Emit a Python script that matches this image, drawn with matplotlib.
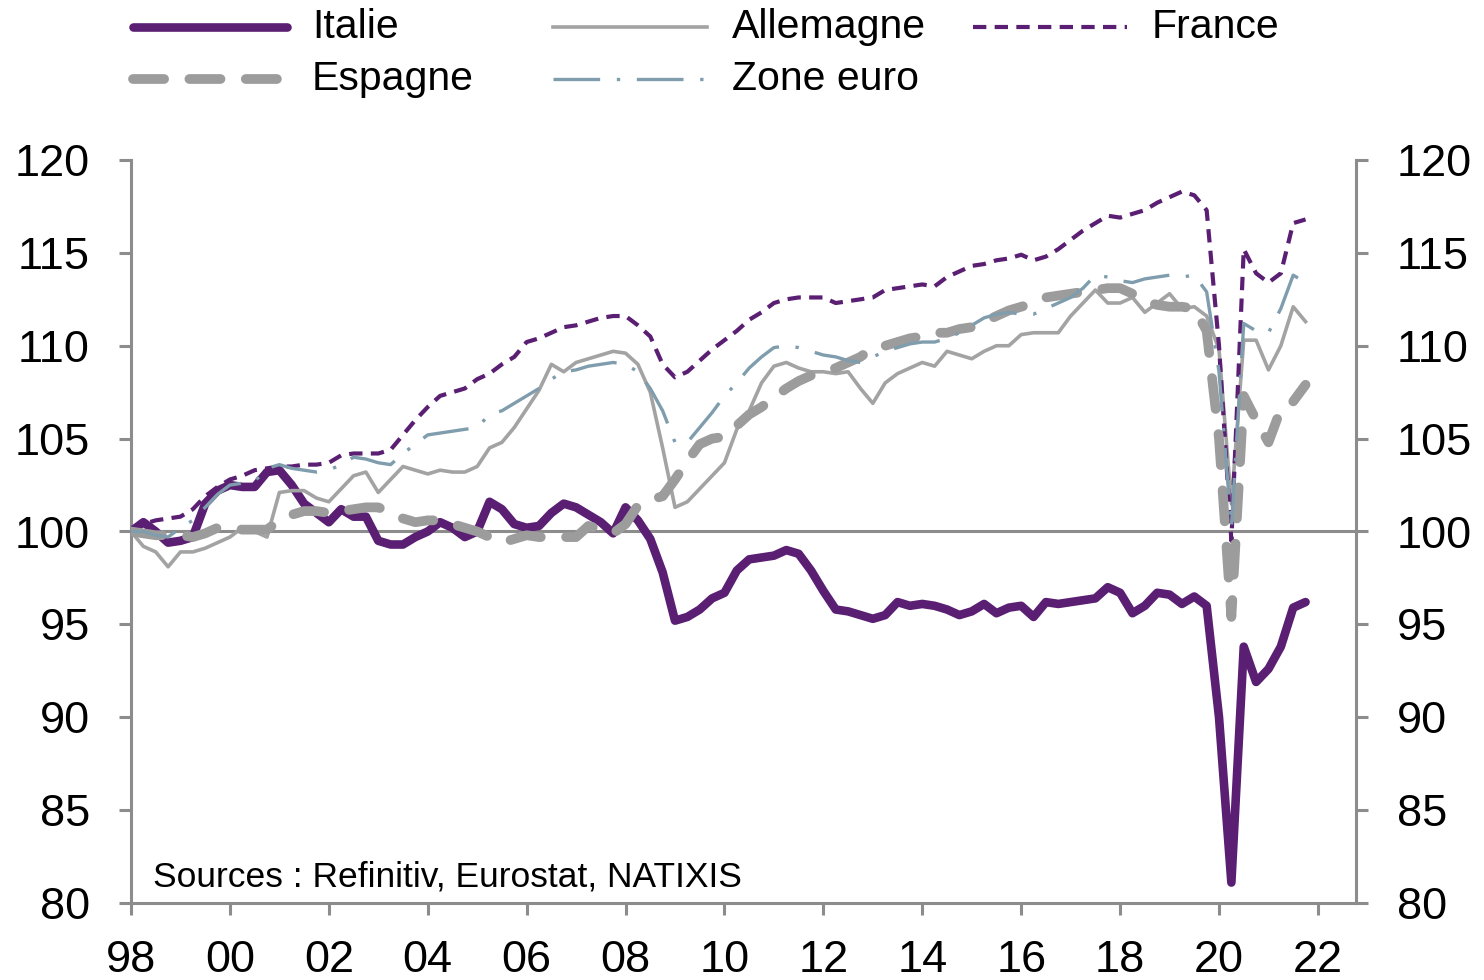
import numpy as np
import matplotlib
matplotlib.use("Agg")
from matplotlib import pyplot as plt
from matplotlib.lines import Line2D

plt.rcParams['font.family'] = ['Liberation Sans', 'DejaVu Sans']

# quarterly index, 1998Q1 = 100
italie = [100.0, 100.5, 100.0, 99.4, 99.5, 99.7, 101.5, 102.2,
          102.5, 102.4, 102.4, 103.2, 103.3, 102.5, 101.5, 101.0,
          100.5, 101.2, 100.8, 100.8, 99.5, 99.3, 99.3, 99.7,
          100.0, 100.5, 100.2, 99.7, 100.0, 101.6, 101.2, 100.4,
          100.2, 100.3, 101.0, 101.5, 101.3, 100.9, 100.5, 99.9,
          101.3, 100.6, 99.6, 97.8, 95.2, 95.4, 95.8, 96.4,
          96.7, 97.9, 98.5, 98.6, 98.7, 99.0, 98.8, 97.9,
          96.8, 95.8, 95.7, 95.5, 95.3, 95.5, 96.2, 96.0,
          96.1, 96.0, 95.8, 95.5, 95.7, 96.1, 95.6, 95.9,
          96.0, 95.4, 96.2, 96.1, 96.2, 96.3, 96.4, 97.0,
          96.7, 95.6, 96.0, 96.7, 96.6, 96.1, 96.5, 96.0,
          90.0, 81.1, 93.8, 91.9, 92.6, 93.8, 95.9, 96.2]

allemagne = [100.0, 99.2, 98.9, 98.1, 98.9, 98.9, 99.1, 99.4,
             99.7, 100.2, 100.0, 99.7, 102.1, 102.2, 102.2, 101.8,
             101.6, 102.3, 103.0, 103.2, 102.1, 102.8, 103.5, 103.3,
             103.1, 103.3, 103.2, 103.2, 103.5, 104.5, 104.8, 105.6,
             106.6, 107.6, 109.0, 108.6, 109.1, 109.3, 109.5, 109.7,
             109.6, 109.0, 107.5, 104.5, 101.3, 101.6, 102.3, 103.0,
             103.7, 105.5, 106.5, 108.0, 108.9, 109.1, 108.8, 108.6,
             108.6, 108.5, 108.6, 107.7, 106.9, 108.0, 108.5, 108.8,
             109.1, 108.9, 109.7, 109.5, 109.3, 109.7, 110.0, 110.0,
             110.6, 110.7, 110.7, 110.7, 111.6, 112.3, 113.0, 112.3,
             112.3, 112.6, 111.8, 112.3, 112.8, 112.0, 112.1, 111.6,
             109.8, 101.5, 110.3, 110.3, 108.7, 110.0, 112.1, 111.3]

france = [100.0, 100.4, 100.6, 100.7, 100.8, 101.2, 101.9, 102.4,
          102.8, 103.0, 103.3, 103.4, 103.5, 103.5, 103.6, 103.6,
          103.7, 104.1, 104.2, 104.2, 104.2, 104.4, 105.2, 106.0,
          106.7, 107.3, 107.5, 107.7, 108.2, 108.5, 109.0, 109.4,
          110.2, 110.4, 110.7, 111.0, 111.1, 111.3, 111.5, 111.6,
          111.6, 111.1, 110.5, 109.0, 108.3, 108.6, 109.2, 109.8,
          110.3, 110.8, 111.4, 111.8, 112.3, 112.5, 112.6, 112.6,
          112.6, 112.3, 112.4, 112.5, 112.6, 113.0, 113.1, 113.2,
          113.3, 113.2, 113.7, 114.0, 114.3, 114.4, 114.6, 114.7,
          114.9, 114.6, 114.8, 115.2, 115.7, 116.2, 116.6, 117.0,
          116.9, 117.1, 117.3, 117.7, 118.0, 118.3, 118.1, 117.3,
          110.0, 99.5, 115.2, 113.9, 113.4, 113.9, 116.6, 116.8]

espagne = [100.0, 99.9, 99.8, 99.8, 99.8, 99.7, 99.9, 100.2,
           100.2, 100.1, 100.1, 100.1, 100.6, 100.9, 101.1, 101.1,
           101.0, 101.1, 101.2, 101.3, 101.3, 101.0, 100.7, 100.5,
           100.6, 100.6, 100.4, 100.2, 100.0, 99.7, 99.4, 99.6,
           99.8, 99.7, 99.7, 99.7, 99.7, 100.3, 100.1, 99.9,
           100.4, 101.4, 101.7, 101.9, 102.8, 103.8, 104.7, 105.0,
           105.1, 105.7, 106.3, 106.7, 107.2, 107.7, 108.1, 108.4,
           108.6, 108.8, 109.1, 109.4, 109.9, 110.0, 110.2, 110.4,
           110.5, 110.7, 110.7, 110.9, 111.0, 111.3, 111.6, 111.9,
           112.1, 112.3, 112.6, 112.7, 112.8, 112.9, 113.0, 113.1,
           113.1, 112.8, 112.4, 112.2, 112.1, 112.1, 112.0, 110.8,
           105.0, 95.4, 107.3, 106.0, 104.8, 106.6, 107.0, 107.9]

zone_euro = [100.0, 100.0, 99.8, 99.7, 100.2, 100.6, 101.3, 102.0,
             102.5, 102.6, 102.7, 103.4, 103.6, 103.4, 103.3, 103.2,
             103.3, 103.6, 104.0, 103.9, 103.7, 103.6, 104.2, 104.7,
             105.2, 105.3, 105.4, 105.5, 105.6, 106.3, 106.5, 106.9,
             107.3, 107.7, 108.2, 108.6, 108.7, 108.9, 109.0, 109.1,
             109.0, 108.6, 107.7, 106.5, 104.8, 104.8, 105.6, 106.4,
             107.3, 108.0, 108.8, 109.4, 109.9, 110.0, 109.9, 109.7,
             109.5, 109.4, 109.2, 109.1, 109.4, 109.7, 109.9, 110.1,
             110.2, 110.2, 110.4, 110.7, 111.1, 111.5, 111.7, 111.8,
             111.7, 111.7, 112.0, 112.3, 112.6, 113.1, 113.8, 113.7,
             113.5, 113.4, 113.6, 113.7, 113.8, 113.7, 113.8, 112.9,
             108.6, 100.2, 111.2, 110.8, 110.7, 112.0, 113.8, 113.4]

t = 1998 + np.arange(len(italie)) / 4
xticks = np.arange(1998, 2023, 2)
xlabels = ['%02d' % (y % 100) for y in xticks]
yticks = np.arange(80, 121, 5)

purple = '#5a1e73'
grey = '#a3a3a3'
grey_sp = '#9c9c9c'
blue = '#7f9dad'
axc = '#8c8c8c'

st_it = dict(color=purple, lw=6.2, solid_joinstyle='round', solid_capstyle='round')
st_de = dict(color=grey, lw=2.6)
st_fr = dict(color=purple, lw=3, linestyle=(0, (3.2, 2.0)))
st_es = dict(color=grey_sp, lw=7, linestyle=(0, (3.2, 2.6)), dash_capstyle='round')
st_ze = dict(color=blue, lw=2.4, linestyle=(0, (14, 5, 1, 5)))

fig = plt.figure(figsize=(14.84, 9.8), dpi=100)
ax = fig.add_axes([131 / 1484, 77 / 980, 1225 / 1484, 743 / 980])

ax.axhline(100, color=axc, lw=2.2, zorder=1)

ax.plot(t, italie, zorder=3, **st_it)
ax.plot(t, allemagne, zorder=3, **st_de)
ax.plot(t, france, zorder=4, **st_fr)
ax.plot(t, espagne, zorder=4, **st_es)
ax.plot(t, zone_euro, zorder=5, **st_ze)

ax.set_xlim(1998, 2022.77)
ax.set_ylim(80, 120)
ax.set_xticks(xticks)
ax.set_xticklabels(xlabels)
ax.set_yticks(yticks)

for s in ['left', 'right', 'bottom']:
    ax.spines[s].set_color(axc)
    ax.spines[s].set_linewidth(2.2)
ax.spines['top'].set_visible(False)

ax.tick_params(axis='both', direction='out', length=8.6, width=2.2, color=axc,
               labelsize=32.5, labelcolor='black')
ax.tick_params(axis='y', right=True, labelright=True, pad=21)
ax.tick_params(axis='x', pad=18)

ax.text(0.018, 0.035, 'Sources : Refinitiv, Eurostat, NATIXIS', transform=ax.transAxes,
        fontsize=25.5, va='center', ha='left')

# legend drawn by hand to match the three fixed columns
entries = [('Italie', st_it, 0, 0), ('Espagne', st_es, 0, 1),
           ('Allemagne', st_de, 1, 0), ('Zone euro', st_ze, 1, 1),
           ('France', st_fr, 2, 0)]
col_x = [133, 553, 973]
row_y = [27, 79]
for label, style, c, r in entries:
    x0 = col_x[c] / 1484
    y0 = 1 - row_y[r] / 980
    fig.add_artist(Line2D([x0, x0 + 154 / 1484], [y0, y0], transform=fig.transFigure, **style))
    fig.text(x0 + 179 / 1484, y0, label, fontsize=29.5, va='center', ha='left')

fig.savefig('out.png', dpi=100)
